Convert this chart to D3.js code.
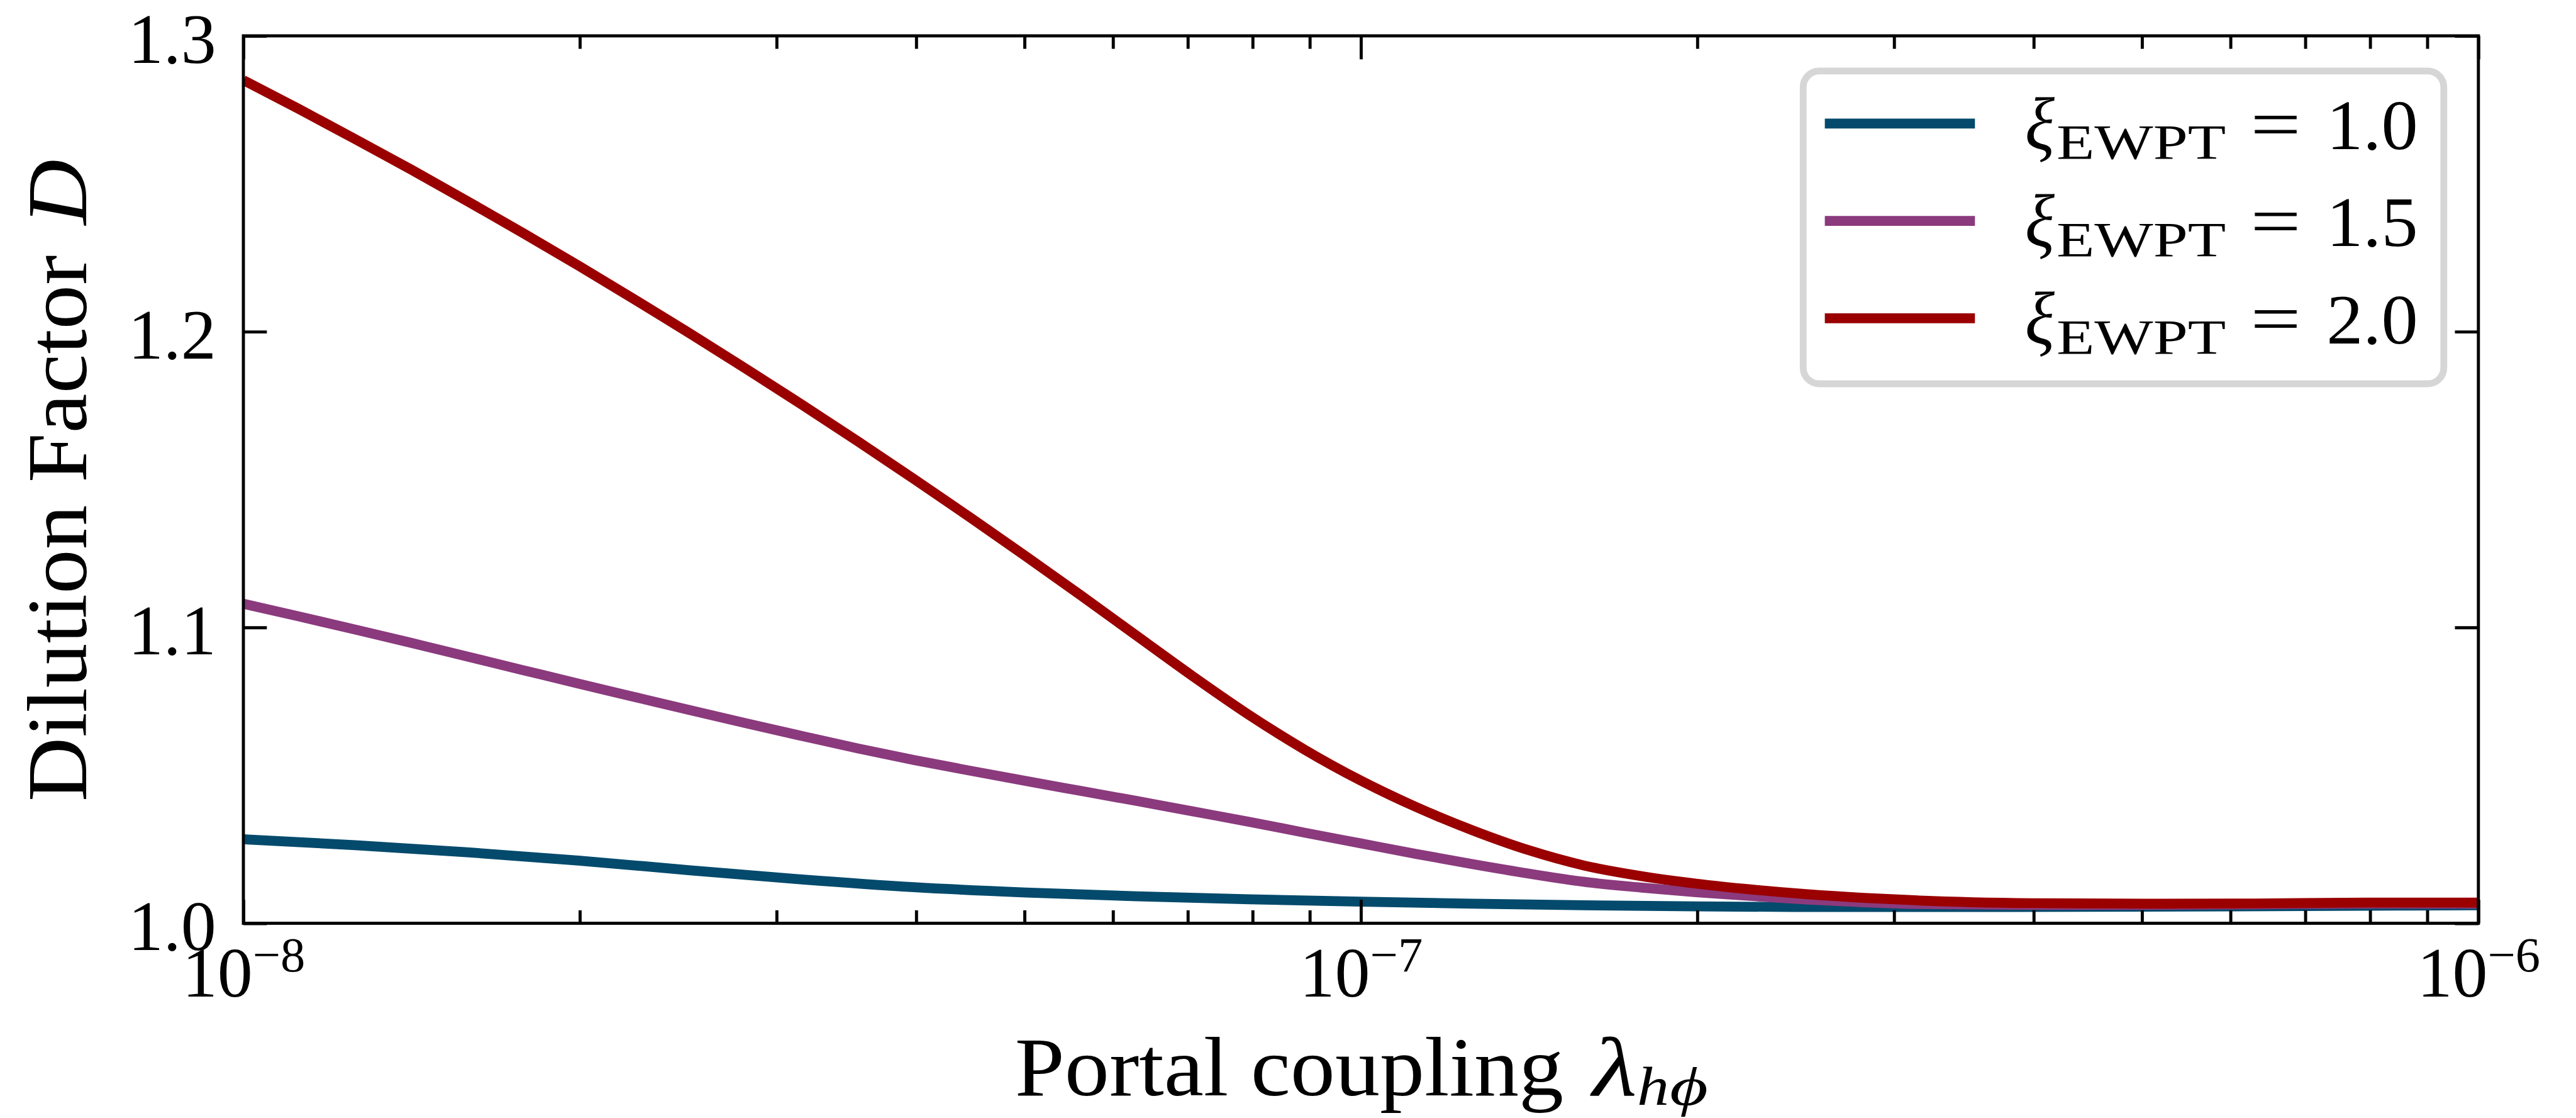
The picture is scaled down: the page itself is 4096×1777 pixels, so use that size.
<!DOCTYPE html>
<html>
<head>
<meta charset="utf-8">
<script src="https://cdn.jsdelivr.net/npm/d3@7"></script>
<style>
  html, body { margin: 0; padding: 0; background: #fff; overflow: hidden; }
  svg { display: block; }
</style>
</head>
<body>
<svg id="chart"></svg>
<script>
// ---- data -------------------------------------------------------------
// Dilution factor D versus portal coupling lambda_{h phi}, one curve per xi_EWPT.
const xiLabels = ["1.0", "1.5", "2.0"];
const seriesColors = ["#034a6c", "#8b3a7d", "#9a0000"];

// sampled couplings (twenty per decade on the dense part, sparser on the plateau)
const lambdaFine = [
  1.000e-8, 1.122e-8, 1.259e-8, 1.413e-8, 1.585e-8, 1.778e-8, 1.995e-8, 2.239e-8, 2.512e-8, 2.818e-8,
  3.162e-8, 3.548e-8, 3.981e-8, 4.467e-8, 5.012e-8, 5.623e-8, 6.310e-8, 7.079e-8, 7.943e-8, 8.913e-8,
  1.000e-7, 1.122e-7, 1.259e-7, 1.413e-7, 1.585e-7, 1.778e-7, 1.995e-7, 2.239e-7, 2.512e-7, 2.818e-7,
  3.162e-7, 3.981e-7, 5.012e-7, 6.310e-7, 7.943e-7, 1.000e-6
];

const dXi20 = [
  1.2850, 1.2752, 1.2651, 1.2548, 1.2442, 1.2334, 1.2223, 1.2109, 1.1993, 1.1874,
  1.1753, 1.1629, 1.1502, 1.1373, 1.1241, 1.1107, 1.0970, 1.0834, 1.0704, 1.0586,
  1.0482, 1.0392, 1.0314, 1.0247, 1.0195, 1.0160, 1.0134, 1.0114, 1.0098, 1.0086,
  1.0077, 1.0068, 1.0066, 1.0067, 1.0070, 1.0070
];

const dXi15 = [
  1.1080, 1.1037, 1.0993, 1.0948, 1.0902, 1.0856, 1.0810, 1.0765, 1.0720, 1.0676,
  1.0633, 1.0591, 1.0552, 1.0516, 1.0481, 1.0447, 1.0413, 1.0378, 1.0343, 1.0306,
  1.0270, 1.0234, 1.0200, 1.0168, 1.0140, 1.0121, 1.0105, 1.0092, 1.0080, 1.0071,
  1.0065, 1.0062, 1.0062, 1.0064, 1.0066, 1.0066
];

const lambdaXi10 = [1.000e-8, 1.259e-8, 1.585e-8, 1.995e-8, 2.512e-8, 3.162e-8, 3.981e-8, 5.012e-8, 6.310e-8,
                    7.943e-8, 1.000e-7, 1.259e-7, 1.585e-7, 1.995e-7, 2.512e-7, 3.162e-7, 5.012e-7, 1.000e-6];
const dXi10      = [1.0284, 1.0264, 1.0240, 1.0212, 1.0179, 1.0148, 1.0122, 1.0104, 1.0091,
                    1.0081, 1.0073, 1.0066, 1.0061, 1.0057, 1.0055, 1.0055, 1.0056, 1.0061];

// axis ticks and their labels
const xMajorTicks = [1e-8, 1e-7, 1e-6];
const xTickExponents = ["\u22128", "\u22127", "\u22126"];
const yTicks = [1.0, 1.1, 1.2, 1.3];
const yTickLabels = ["1.0", "1.1", "1.2", "1.3"];

// ---- layout -----------------------------------------------------------
const W = 4096, H = 1777;
const S = W / 4170;                 // drawing is laid out on a 4170 x 1809 grid
const M = { left: 394, right: 4012, top: 58, bottom: 1494 };
const FONT = "'Liberation Serif', 'Times New Roman', serif";
const MAJOR = 38, MINOR = 21, TICK_W = 5;

const svg = d3.select("#chart").attr("width", W).attr("height", H);
const g = svg.append("g").attr("transform", `scale(${S})`);

const x = d3.scaleLog().domain([1e-8, 1e-6]).range([M.left, M.right]);
const y = d3.scaleLinear().domain([1.0, 1.3]).range([M.bottom, M.top]);

g.append("defs").append("clipPath").attr("id", "plot-clip")
  .append("rect")
  .attr("x", M.left).attr("y", M.top)
  .attr("width", M.right - M.left).attr("height", M.bottom - M.top);

// ---- curves -----------------------------------------------------------
const series = [
  { label: xiLabels[0], color: seriesColors[0], pts: lambdaXi10.map((l, i) => [l, dXi10[i]]) },
  { label: xiLabels[1], color: seriesColors[1], pts: lambdaFine.map((l, i) => [l, dXi15[i]]) },
  { label: xiLabels[2], color: seriesColors[2], pts: lambdaFine.map((l, i) => [l, dXi20[i]]) }
];

const line = d3.line()
  .x(d => x(d[0]))
  .y(d => y(d[1]))
  .curve(d3.curveMonotoneX);

g.append("g").attr("clip-path", "url(#plot-clip)")
  .selectAll("path")
  .data(series)
  .join("path")
  .attr("d", d => line(d.pts))
  .attr("fill", "none")
  .attr("stroke", d => d.color)
  .attr("stroke-width", 16)
  .attr("stroke-linejoin", "round");

// ---- axes -------------------------------------------------------------
const minorX = x.ticks().filter(v => !xMajorTicks.some(m => Math.abs(m - v) / m < 1e-9));

function styleTicks(sel) {
  sel.select(".domain").remove();
  sel.selectAll(".tick line").attr("stroke", "#000").attr("stroke-width", TICK_W);
}

// bottom: major ticks with 10^n labels
const xBottom = g.append("g")
  .attr("transform", `translate(0,${M.bottom})`)
  .call(d3.axisBottom(x).tickValues(xMajorTicks).tickSize(-MAJOR).tickFormat(() => ""))
  .call(styleTicks);
xBottom.selectAll(".tick text")
  .attr("y", 119).attr("dy", null)
  .attr("fill", "#000")
  .attr("font-family", FONT).attr("font-size", 114)
  .attr("text-anchor", "middle")
  .each(function (d, i) {
    const t = d3.select(this);
    t.append("tspan").text("10");
    t.append("tspan").attr("font-size", 80).attr("dy", -41).text(xTickExponents[i]);
  });

// bottom minor ticks
g.append("g")
  .attr("transform", `translate(0,${M.bottom})`)
  .call(d3.axisBottom(x).tickValues(minorX).tickSize(-MINOR).tickFormat(() => ""))
  .call(styleTicks);

// top, mirrored
g.append("g")
  .attr("transform", `translate(0,${M.top})`)
  .call(d3.axisTop(x).tickValues(xMajorTicks).tickSize(-MAJOR).tickFormat(() => ""))
  .call(styleTicks);
g.append("g")
  .attr("transform", `translate(0,${M.top})`)
  .call(d3.axisTop(x).tickValues(minorX).tickSize(-MINOR).tickFormat(() => ""))
  .call(styleTicks);

// left with labels
const yLeft = g.append("g")
  .attr("transform", `translate(${M.left},0)`)
  .call(d3.axisLeft(y).tickValues(yTicks).tickSize(-MAJOR).tickFormat((d, i) => yTickLabels[i]))
  .call(styleTicks);
yLeft.selectAll(".tick text")
  .attr("x", -44).attr("y", 43).attr("dy", null)
  .attr("fill", "#000")
  .attr("font-family", FONT).attr("font-size", 114)
  .attr("text-anchor", "end");

// right, mirrored
g.append("g")
  .attr("transform", `translate(${M.right},0)`)
  .call(d3.axisRight(y).tickValues(yTicks).tickSize(-MAJOR).tickFormat(() => ""))
  .call(styleTicks);

// frame
g.append("rect")
  .attr("x", M.left).attr("y", M.top)
  .attr("width", M.right - M.left).attr("height", M.bottom - M.top)
  .attr("fill", "none").attr("stroke", "#000").attr("stroke-width", TICK_W);

// ---- axis titles -------------------------------------------------------
function piece(parent, txt, px, py, size, opts = {}) {
  const t = parent.append("text")
    .attr("x", px).attr("y", py)
    .attr("font-family", FONT).attr("font-size", size)
    .attr("fill", "#000")
    .text(txt);
  if (opts.italic) t.attr("font-style", "italic");
  if (opts.len) t.attr("textLength", opts.len).attr("lengthAdjust", "spacingAndGlyphs");
  return t;
}

// x title: Portal coupling λ_{hϕ}
const xt = g.append("g");
piece(xt, "Portal coupling", 1643, 1772, 136, { len: 888 });
piece(xt, "\u03BB", 2578, 1773, 136, { italic: true, len: 72 });
piece(xt, "h", 2650, 1788, 88, { italic: true, len: 52 });
piece(xt, "\u03D5", 2703, 1788, 88, { italic: true, len: 62 });

// y title: Dilution Factor D (rotated)
const yt = g.append("g").attr("transform", "translate(139,776) rotate(-90)");
piece(yt, "Dilution Factor", -521, 0, 138, { len: 884 });
piece(yt, "D", 412, 0, 138, { italic: true, len: 106 });

// ---- legend ------------------------------------------------------------
const lg = g.append("g");
lg.append("rect")
  .attr("x", 2919).attr("y", 115)
  .attr("width", 1037).attr("height", 506)
  .attr("rx", 26).attr("ry", 26)
  .attr("fill", "#fff").attr("fill-opacity", 0.8)
  .attr("stroke", "#d6d6d6").attr("stroke-width", 11);

series.forEach((s, i) => {
  const cy = 200 + i * 157.5;
  lg.append("line")
    .attr("x1", 2954).attr("x2", 3197)
    .attr("y1", cy).attr("y2", cy)
    .attr("stroke", s.color).attr("stroke-width", 16);
  const base = cy + 41;
  piece(lg, "\u03BE", 3278, base, 120, { italic: true, len: 48 });
  piece(lg, "EWPT", 3329, base + 16, 80, { len: 274 });
  piece(lg, "=", 3643, base - 2, 114, { len: 82 });
  piece(lg, s.label, 3766, base, 114, { len: 148 });
});
</script>
</body>
</html>
